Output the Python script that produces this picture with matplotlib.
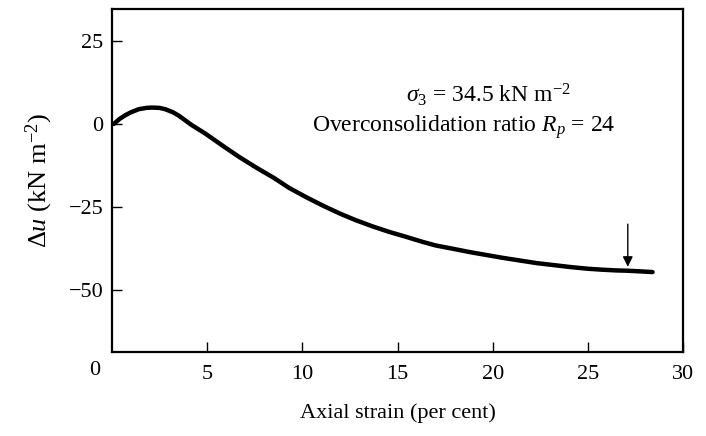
import matplotlib
matplotlib.use("Agg")
import matplotlib.pyplot as plt
from matplotlib.transforms import offset_copy

plt.rcParams['font.family'] = ['Liberation Serif', 'DejaVu Serif']
plt.rcParams['mathtext.fontset'] = 'custom'
plt.rcParams['mathtext.rm'] = 'Liberation Serif'
plt.rcParams['mathtext.it'] = 'Liberation Serif:italic'
plt.rcParams['mathtext.bf'] = 'Liberation Serif:bold'

strain = [0.1, 0.4, 0.7, 1.0, 1.4, 1.8, 2.1, 2.5, 2.8, 3.2, 3.5, 4.2, 4.9, 5.8, 6.7,
          7.6, 8.5, 9.3, 10.2, 11.1, 12.0, 12.8, 13.7, 14.6, 15.5, 16.3, 17.0, 18.0,
          18.8, 19.7, 20.5, 21.4, 22.3, 23.2, 24.1, 25.0, 25.8, 26.5, 27.1, 27.8, 28.4]
du = [0.0, 1.5, 2.6, 3.5, 4.4, 4.8, 4.9, 4.8, 4.4, 3.5, 2.5, -0.4, -2.9, -6.5, -10.0,
      -13.2, -16.2, -19.2, -22.0, -24.6, -27.0, -28.9, -30.8, -32.5, -34.0, -35.4, -36.5,
      -37.6, -38.5, -39.4, -40.2, -41.0, -41.8, -42.4, -43.0, -43.5, -43.8, -44.0, -44.1,
      -44.3, -44.5]
xticks = [5, 10, 15, 20, 25, 30]
yticks = [25, 0, -25, -50]
failure_strain = 27.1
failure_du = -44.1

fig = plt.figure(figsize=(7.06, 4.36), dpi=100)
ax = fig.add_axes([112/706, 1-352/436, (683-112)/706, (352-9)/436])
ax.plot(strain, du, color='black', lw=3.2, solid_capstyle='round')
ax.set_xlim(0, 30)
ax.set_ylim(-68.5, 34.5)
ax.set_xticks(xticks)
ax.set_xticklabels([str(t) for t in xticks])
ax.set_yticks(yticks)
ax.set_yticklabels(['25', '0', '\u221225', '\u221250'])
ax.tick_params(direction='in', length=7, width=1.0, labelsize=16)
ax.tick_params(axis='x', pad=9)
ax.tick_params(axis='y', pad=6)
for s in ax.spines.values():
    s.set_linewidth(1.6)
ax.text(-0.9, -68.5, '0', fontsize=16, ha='center', va='top',
        transform=offset_copy(ax.transData, fig=fig, y=-9, units='dots'))
ax.annotate('', xy=(failure_strain, failure_du + 1.2), xytext=(failure_strain, failure_du + 14),
            arrowprops=dict(arrowstyle='-|>', lw=1.0, color='black', mutation_scale=15,
                            shrinkA=0, shrinkB=0))
ax.text(19.8, 8.6, r'$\sigma_3$ = 34.5 kN m$^{-2}$', fontsize=17, ha='center', va='center')
ax.text(18.5, -1.0, r'Overconsolidation ratio $R_p$ = 24', fontsize=17, ha='center', va='center')
ax.set_xlabel('Axial strain (per cent)', fontsize=16, labelpad=14)
ax.set_ylabel(r'$\Delta u$ (kN m$^{-2}$)', fontsize=19, labelpad=10)
fig.savefig('out.png', dpi=100)
